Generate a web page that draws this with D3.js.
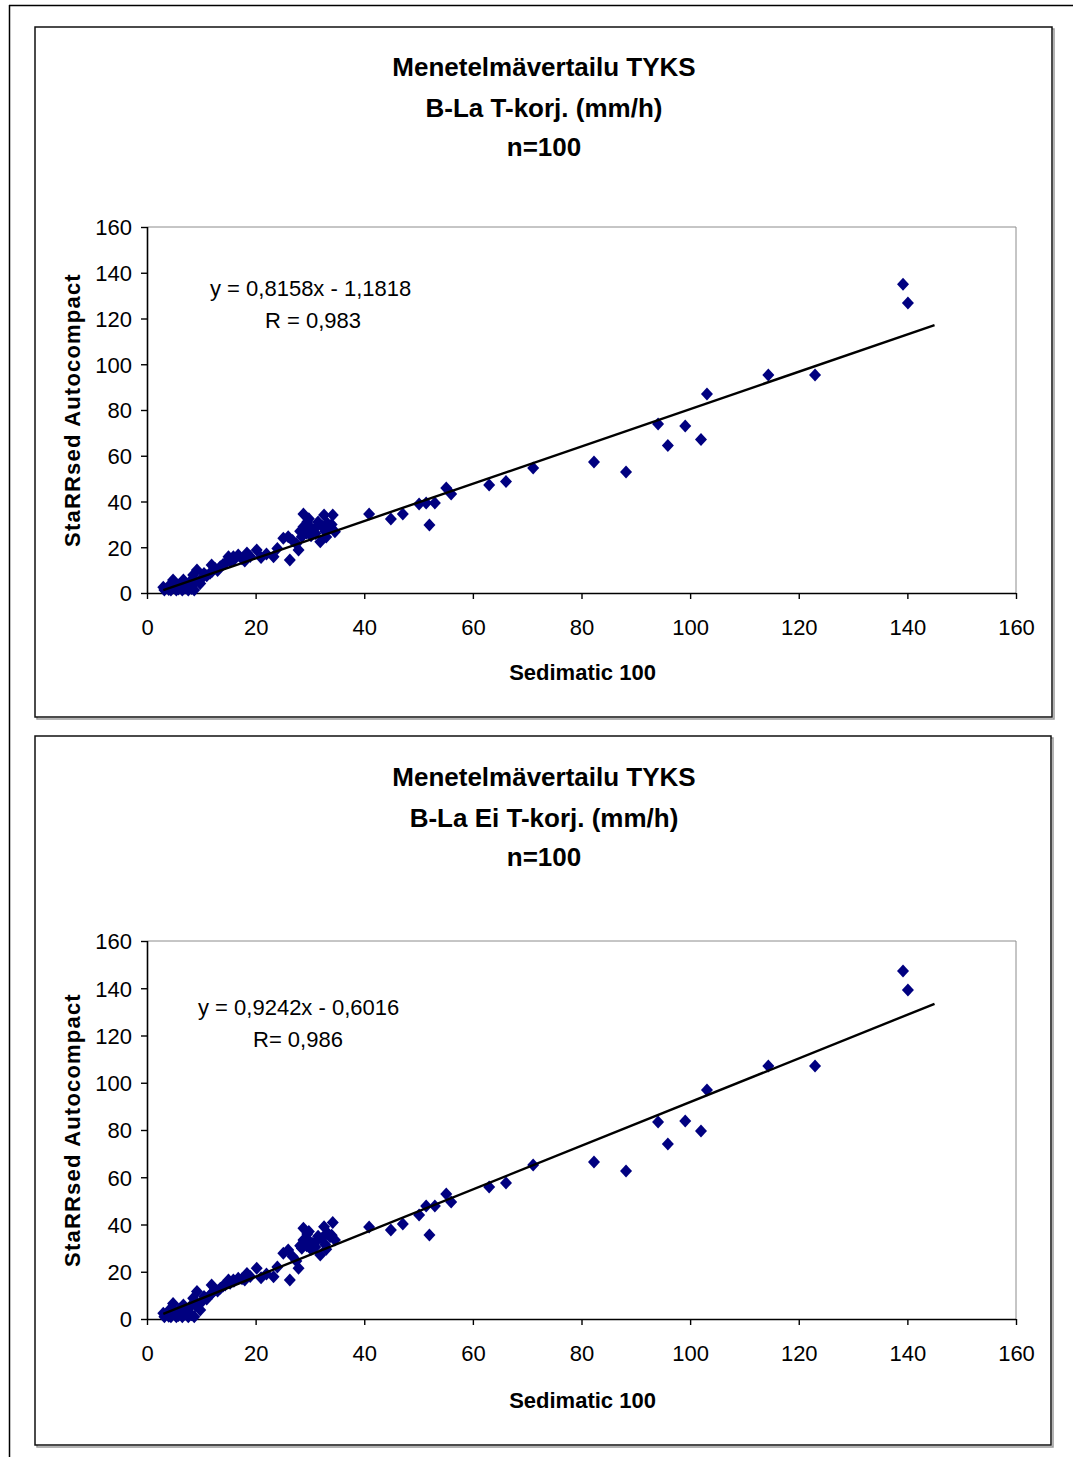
<!DOCTYPE html>
<html>
<head>
<meta charset="utf-8">
<script src="https://cdn.jsdelivr.net/npm/d3@7"></script>
<style>
  html, body { margin: 0; padding: 0; background: #fff; }
  svg { display: block; font-family: "Liberation Sans", Arial, sans-serif; }
</style>
</head>
<body>
<svg id="chart" width="1073" height="1457"></svg>
<script>
// ---------------- DATA ----------------
const titleLine1 = "Menetelmävertailu TYKS";
const subtitles = ["B-La T-korj. (mm/h)", "B-La Ei T-korj. (mm/h)"];
const countLabel = "n=100";
const xAxisTitle = "Sedimatic 100";
const yAxisTitle = "StaRRsed Autocompact";
const equations = ["y = 0,8158x - 1,1818", "y = 0,9242x - 0,6016"];
const rLabels = ["R = 0,983", "R= 0,986"];
const slopes = [0.8158, 0.9242];
const intercepts = [-1.1818, -0.6016];
const trendXRange = [3, 145];
const xTicks = [0, 20, 40, 60, 80, 100, 120, 140, 160];
const yTicks = [0, 20, 40, 60, 80, 100, 120, 140, 160];

// Sedimatic 100 values (shared x)
const sedimatic = [
  139.2, 140.1, 114.4, 123.0, 103.1, 94.1, 99.1, 95.9, 102.0, 82.3,
  88.2, 71.1, 66.1, 63.0, 56.0, 55.1, 53.0, 51.4, 50.1, 52.0,
  47.1, 44.9, 40.9, 28.8, 32.6, 34.2, 28.8, 30.0, 31.2, 32.2,
  33.7, 34.6, 29.4, 28.5, 31.9, 27.9, 26.3, 25.1, 26.0, 23.3,
  20.2, 18.4, 16.8, 15.9, 15.0, 15.3, 14.4, 11.9, 12.5, 11.6,
  9.2, 8.5, 10.1, 9.8, 6.7, 4.8, 4.2, 3.0, 5.2, 3.2,
  4.4, 5.4, 6.5, 7.6, 8.7, 7.3, 7.9, 29.5, 30.5, 31.0,
  32.8, 33.2, 29.0, 30.2, 31.5, 28.2, 33.0, 34.0, 27.5, 29.8,
  17.5, 19.0, 13.5, 12.0, 10.5, 13.0, 11.0, 16.0, 14.0, 6.0,
  5.8, 7.0, 8.2, 4.0, 9.0, 22.0, 24.0, 21.0, 18.0, 26.8
];
// StaRRsed, temperature corrected (T-korj.)
const starrsedCorrected = [
  135.0, 126.8, 95.3, 95.3, 87.0, 73.9, 73.0, 64.5, 67.1, 57.3,
  52.9, 54.6, 48.7, 47.2, 43.3, 45.9, 39.3, 39.3, 38.9, 29.7,
  34.5, 32.3, 34.5, 34.5, 34.1, 34.1, 29.0, 29.0, 29.0, 29.3,
  28.4, 26.8, 26.2, 24.6, 22.4, 18.8, 14.4, 23.9, 24.6, 15.9,
  18.8, 17.5, 16.6, 15.9, 15.9, 13.7, 13.0, 12.2, 10.8, 8.6,
  10.1, 7.9, 6.4, 4.2, 5.7, 5.7, 3.5, 2.5, 2.8, 1.3,
  1.3, 1.3, 1.3, 1.3, 1.3, 3.5, 4.9, 31.0, 27.5, 26.0,
  27.0, 30.5, 28.0, 25.0, 31.0, 27.0, 24.5, 30.0, 21.5, 32.5,
  15.0, 16.0, 11.5, 9.5, 8.5, 9.8, 7.5, 14.5, 12.5, 3.8,
  1.8, 2.2, 2.0, 1.5, 5.0, 17.0, 19.5, 15.5, 14.0, 23.0
];
// StaRRsed, not temperature corrected (Ei T-korj.)
const starrsedUncorrected = [
  147.3, 139.3, 107.1, 107.1, 96.9, 83.4, 83.8, 74.1, 79.6, 66.5,
  62.6, 65.2, 57.6, 55.9, 49.5, 52.9, 47.8, 47.8, 44.0, 35.6,
  40.2, 37.7, 38.9, 38.4, 39.1, 40.8, 33.4, 32.7, 33.0, 34.1,
  34.8, 33.4, 31.0, 30.0, 27.1, 21.5, 16.5, 27.8, 29.2, 17.9,
  21.5, 19.3, 17.2, 16.5, 16.5, 15.1, 14.4, 14.4, 12.3, 10.2,
  11.6, 8.8, 7.3, 3.8, 5.9, 6.6, 4.0, 2.4, 3.0, 1.0,
  1.0, 1.0, 1.0, 1.0, 1.0, 3.6, 5.2, 36.0, 32.0, 30.5,
  31.5, 36.5, 32.5, 29.5, 35.0, 31.0, 29.5, 35.5, 24.5, 37.0,
  17.0, 18.0, 13.0, 11.0, 9.5, 11.8, 8.5, 16.0, 14.0, 4.2,
  1.5, 2.0, 1.8, 1.2, 5.5, 19.0, 22.0, 17.5, 16.5, 26.5
];
const seriesY = [starrsedCorrected, starrsedUncorrected];

// ---------------- LAYOUT ----------------
const svg = d3.select("#chart");

// outer page frame
svg.append("line").attr("x1", 9).attr("y1", 5.5).attr("x2", 1073).attr("y2", 5.5)
  .attr("stroke", "#000").attr("stroke-width", 1.5);
svg.append("line").attr("x1", 9.5).attr("y1", 5).attr("x2", 9.5).attr("y2", 1457)
  .attr("stroke", "#000").attr("stroke-width", 1.5);

const panels = [
  { box: [35, 27, 1052, 717], plot: [147, 227, 1016, 593], titleY: [76, 117, 156],
    xlabY: 680, eqX: 210, eqY: 296, rX: 265, rY: 328, ylabX: 80 },
  { box: [35, 736, 1051, 1445], plot: [147, 941, 1016, 1319], titleY: [786, 827, 866],
    xlabY: 1408, eqX: 198, eqY: 1015, rX: 253, rY: 1047, ylabX: 80 }
];

panels.forEach((p, i) => {
  const g = svg.append("g");
  const [bx0, by0, bx1, by1] = p.box;
  // shadow
  g.append("rect").attr("x", bx0 + 2).attr("y", by0 + 2).attr("width", bx1 - bx0).attr("height", by1 - by0)
    .attr("fill", "none").attr("stroke", "#9a9a9a").attr("stroke-width", 1.5);
  g.append("rect").attr("x", bx0).attr("y", by0).attr("width", bx1 - bx0).attr("height", by1 - by0)
    .attr("fill", "#fff").attr("stroke", "#111").attr("stroke-width", 1.5);

  const [px0, py0, px1, py1] = p.plot;
  const x = d3.scaleLinear().domain([0, 160]).range([px0, px1]);
  const y = d3.scaleLinear().domain([0, 160]).range([py1, py0]);

  // plot area border (top/right gray)
  g.append("path").attr("d", `M${px0},${py0}H${px1}V${py1}`)
    .attr("fill", "none").attr("stroke", "#8c8c8c").attr("stroke-width", 1);

  // titles
  const cx = 544;
  [titleLine1, subtitles[i], countLabel].forEach((t, k) => {
    g.append("text").attr("x", cx).attr("y", p.titleY[k]).attr("text-anchor", "middle")
      .attr("font-size", 26).attr("font-weight", "bold").attr("letter-spacing", 0)
      .text(t);
  });

  // axes
  const xAxis = d3.axisBottom(x).tickValues(xTicks).tickSize(6).tickPadding(20).tickFormat(d3.format("d"));
  const yAxis = d3.axisLeft(y).tickValues(yTicks).tickSize(6).tickPadding(9).tickFormat(d3.format("d"));
  const gx = g.append("g").attr("transform", `translate(0,${py1})`).call(xAxis);
  const gy = g.append("g").attr("transform", `translate(${px0},0)`).call(yAxis);
  [gx, gy].forEach(ax => {
    ax.select(".domain").attr("stroke", "#000").attr("stroke-width", 1.6);
    ax.selectAll(".tick line").attr("stroke", "#000").attr("stroke-width", 1.4);
    ax.selectAll(".tick text").attr("font-size", 22).attr("fill", "#000")
      .attr("font-family", "'Liberation Sans', Arial, sans-serif");
  });
  gx.select(".domain").attr("d", `M${px0},0.5H${px1}`);
  gy.select(".domain").attr("d", `M0.5,${py0}V${py1}`);
  gx.selectAll(".tick text").attr("dy", "0.71em");
  gy.selectAll(".tick text").attr("dy", "0.36em");

  // axis titles
  g.append("text").attr("x", (px0 + px1) / 2 + 1).attr("y", p.xlabY).attr("text-anchor", "middle")
    .attr("font-size", 22).attr("font-weight", "bold").text(xAxisTitle);
  g.append("text").attr("transform", `translate(${p.ylabX},${(py0 + py1) / 2}) rotate(-90)`)
    .attr("text-anchor", "middle").attr("font-size", 22).attr("font-weight", "bold")
    .attr("letter-spacing", 1.2).text(yAxisTitle);

  // points
  const ys = seriesY[i];
  const diamond = "M0,-6.5L6,0L0,6.5L-6,0Z";
  g.append("g").selectAll("path").data(sedimatic.map((v, k) => [v, ys[k]])).join("path")
    .attr("d", diamond)
    .attr("transform", d => `translate(${x(d[0])},${y(d[1])})`)
    .attr("fill", "#000080");

  // trendline
  const line = d3.line().x(d => x(d)).y(d => y(slopes[i] * d + intercepts[i]));
  g.append("path").attr("d", line(trendXRange)).attr("stroke", "#000").attr("stroke-width", 2.4)
    .attr("fill", "none");

  // equation texts
  g.append("text").attr("x", p.eqX).attr("y", p.eqY).attr("font-size", 22).text(equations[i]);
  g.append("text").attr("x", p.rX).attr("y", p.rY).attr("font-size", 22).text(rLabels[i]);
});
</script>
</body>
</html>
